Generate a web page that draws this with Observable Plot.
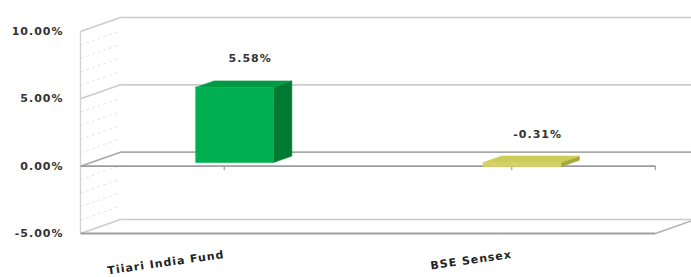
<!DOCTYPE html>
<html>
<head>
<meta charset="utf-8">
<script src="https://cdn.jsdelivr.net/npm/d3@7"></script>
<script src="https://cdn.jsdelivr.net/npm/@observablehq/plot@0.6"></script>
<style>
  html, body { margin: 0; padding: 0; background: #fff; }
</style>
</head>
<body>
<div id="chart"></div>
<script>
// ---- data ----
const categories = ["Tiiari India Fund", "BSE Sensex"];
const returns = [5.58, -0.31];
const yTicks = [-5, 0, 5, 10];
const yMinor = [-4, -3, -2, -1, 1, 2, 3, 4, 6, 7, 8, 9];

// ---- styles ----
const faceColors = [
  { front: "#00b050", top: "#009a44", side: "#007a32" },
  { front: "#d2d266", top: "#cccc58", side: "#a8a83c" }
];
const dX = 0.139, dY = 1.04;          // projection of full depth
const barHalf = 0.135, dFront = 0.26, dBack = 0.72;
const P = (x, y, d) => ({ x: x + d * dX, y: y + d * dY });

// bar faces
const faces = [];
categories.forEach((name, i) => {
  const c = i + 0.5, v = returns[i];
  const top = Math.max(v, 0), bot = Math.min(v, 0);
  const col = faceColors[i];
  const add = (id, color, pts) => pts.forEach(p => faces.push({ id: name + id, color, ...p }));
  add("side", col.side, [P(c + barHalf, bot, dFront), P(c + barHalf, bot, dBack), P(c + barHalf, top, dBack), P(c + barHalf, top, dFront)]);
  add("top", col.top, [P(c - barHalf, top, dFront), P(c + barHalf, top, dFront), P(c + barHalf, top, dBack), P(c - barHalf, top, dBack)]);
  add("front", col.front, [P(c - barHalf, bot, dFront), P(c + barHalf, bot, dFront), P(c + barHalf, top, dFront), P(c - barHalf, top, dFront)]);
});

// walls
const backLines = yTicks.map(t => ({ t, x1: dX, x2: 2 + dX + 0.2, y: t + dY }));
const sideLines = yTicks.map(t => ({ t, ...P(0, t, 0), x2: dX, y2: t + dY }));
const minorLines = yMinor.map(t => ({ x: 0, y: t, x2: dX, y2: t + dY }));
const labels = categories.map((name, i) => ({ name, x: i + 0.5, v: returns[i] }));

const chart = Plot.plot({
  width: 691,
  height: 277,
  marginLeft: 80,
  marginRight: 36,
  marginTop: 31,
  marginBottom: 44,
  x: { domain: [0, 2], axis: null },
  y: { domain: [-5, 10], axis: null },
  color: { type: "identity" },
  style: { fontFamily: "DejaVu Sans", fontSize: "11px", fontWeight: "bold", letterSpacing: "1px", color: "#333", background: "#fff" },
  marks: [
    // left side wall minor dashes
    Plot.link(minorLines, { x1: "x", y1: "y", x2: "x2", y2: "y2", stroke: "#e4e4e4", strokeDasharray: "3,3" }),
    // back wall gridlines
    Plot.link(backLines, { x1: "x1", x2: "x2", y1: "y", y2: "y", stroke: d => d.t === 0 ? "#a8a8a8" : "#cccccc", strokeWidth: 1.6 }),
    // side wall gridlines
    Plot.link(sideLines, { x1: "x", y1: "y", x2: "x2", y2: "y2", stroke: d => d.t === 0 ? "#a8a8a8" : "#cccccc", strokeWidth: 1.6 }),
    // left front edge
    Plot.link([{ a: -5, b: 10 }], { x1: 0, x2: 0, y1: "a", y2: "b", stroke: "#d4d4d4", strokeWidth: 1.4 }),
    // floor front edge and right diagonal
    Plot.link([{ y: -5 }], { x1: 0, x2: 2, y1: "y", y2: "y", stroke: "#a0a0a0", strokeWidth: 1.8 }),
    Plot.link([{ y: -5 }], { x1: 2, x2: 2 + dX, y1: "y", y2: d => d.y + dY, stroke: "#b0b0b0", strokeWidth: 1.4 }),
    // category axis at zero
    Plot.link([{ y: 0 }], { x1: 0, x2: 2, y1: "y", y2: "y", stroke: "#9c9c9c", strokeWidth: 1.8 }),
    Plot.link([0.5, 1.5, 2], { x1: d => d, x2: d => d, y1: 0, y2: -0.3, stroke: "#9c9c9c", strokeWidth: 1.2 }),
    // bars
    Plot.line(faces, { x: "x", y: "y", z: "id", fill: "color", stroke: "color", strokeWidth: 0.6, curve: "linear-closed" }),
    // data labels
    Plot.text(labels, { x: d => d.x + 0.09, y: d => Math.max(d.v, 0) + dBack * dY, dy: -22, text: d => d.v.toFixed(2) + "%", fill: "#333" }),
    // category labels
    Plot.text(labels, { x: "x", y: -5, dy: 21, text: "name", textAnchor: "end", rotate: -8, fill: "#222" }),
    // y axis labels
    Plot.axisY(yTicks, { tickFormat: d => d.toFixed(2) + "%", tickSize: 0, tickPadding: 17, fill: "#333" })
  ]
});
document.getElementById("chart").appendChild(chart);
</script>
</body>
</html>
